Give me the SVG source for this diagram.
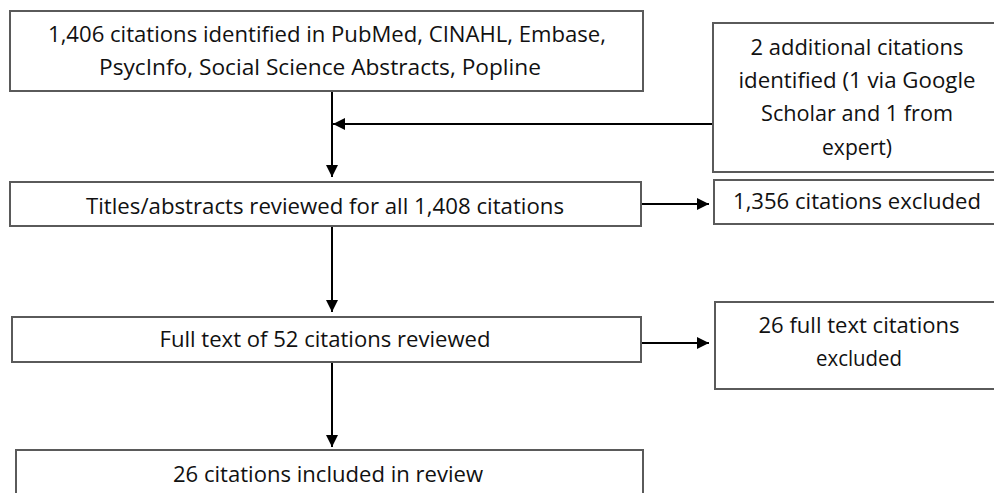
<svg xmlns="http://www.w3.org/2000/svg" width="994" height="493" viewBox="0 0 994 493">
<style>
.box{fill:#fff;stroke:#5a5a5a;stroke-width:2}
.t{font-family:"Open Sans","Noto Sans","Liberation Sans",sans-serif;font-size:22px;fill:#111;text-anchor:middle}
.c{stroke:#000;stroke-width:2;fill:none}
</style>
<defs>
<marker id="ah" markerUnits="userSpaceOnUse" markerWidth="13" markerHeight="12" refX="12" refY="6" orient="auto">
<path d="M0,0 L12,6 L0,12 z" fill="#000"/>
</marker>
</defs>
<rect width="994" height="493" fill="#fff"/>
<g id="connectors">
<line class="c" x1="332" y1="91" x2="332" y2="177" marker-end="url(#ah)"/>
<line class="c" x1="713" y1="124" x2="333" y2="124" marker-end="url(#ah)"/>
<line class="c" x1="641" y1="204" x2="709" y2="204" marker-end="url(#ah)"/>
<line class="c" x1="332" y1="226" x2="332" y2="312" marker-end="url(#ah)"/>
<line class="c" x1="641" y1="343" x2="709" y2="343" marker-end="url(#ah)"/>
<line class="c" x1="332" y1="362" x2="332" y2="447" marker-end="url(#ah)"/>
</g>
<g id="n1">
<rect class="box" x="10" y="11" width="633" height="80"/>
<text class="t" x="327" y="42" textLength="558" lengthAdjust="spacingAndGlyphs">1,406 citations identified in PubMed, CINAHL, Embase,</text>
<text class="t" x="320" y="75" textLength="442" lengthAdjust="spacingAndGlyphs">PsycInfo, Social Science Abstracts, Popline</text>
</g>
<g id="n2">
<rect class="box" x="713" y="23" width="290" height="149"/>
<text class="t" x="857" y="55" textLength="213" lengthAdjust="spacingAndGlyphs">2 additional citations</text>
<text class="t" x="857" y="88" textLength="237" lengthAdjust="spacingAndGlyphs">identified (1 via Google</text>
<text class="t" x="857" y="121" textLength="192" lengthAdjust="spacingAndGlyphs">Scholar and 1 from</text>
<text class="t" x="857" y="155" textLength="70" lengthAdjust="spacingAndGlyphs">expert)</text>
</g>
<g id="n3">
<rect class="box" x="10" y="182" width="631" height="44"/>
<text class="t" x="325" y="214" textLength="478" lengthAdjust="spacingAndGlyphs">Titles/abstracts reviewed for all 1,408 citations</text>
</g>
<g id="n4">
<rect class="box" x="714" y="180" width="290" height="44"/>
<text class="t" x="857" y="209" textLength="248" lengthAdjust="spacingAndGlyphs">1,356 citations excluded</text>
</g>
<g id="n5">
<rect class="box" x="12" y="317" width="629" height="45"/>
<text class="t" x="325" y="347" textLength="331" lengthAdjust="spacingAndGlyphs">Full text of 52 citations reviewed</text>
</g>
<g id="n6">
<rect class="box" x="715" y="302" width="290" height="87"/>
<text class="t" x="859" y="333" textLength="201" lengthAdjust="spacingAndGlyphs">26 full text citations</text>
<text class="t" x="859" y="366" textLength="86" lengthAdjust="spacingAndGlyphs">excluded</text>
</g>
<g id="n7">
<rect class="box" x="16" y="450" width="627" height="60"/>
<text class="t" x="328" y="482" textLength="310" lengthAdjust="spacingAndGlyphs">26 citations included in review</text>
</g>
</svg>
